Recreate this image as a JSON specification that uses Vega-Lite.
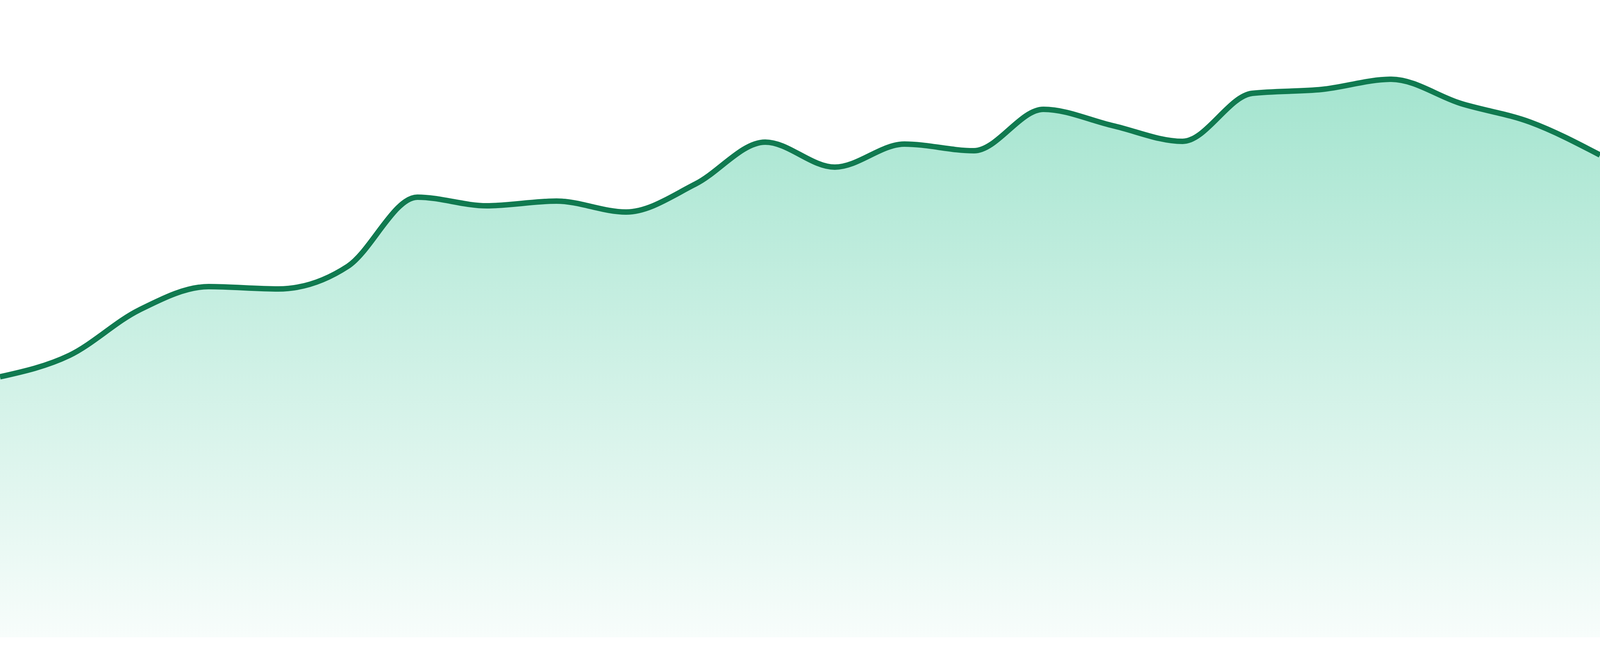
{
  "$schema": "https://vega.github.io/schema/vega-lite/v6.json",
  "description": "Smooth area chart with green gradient fill",
  "width": 4096,
  "height": 1680,
  "autosize": {"type": "fit", "contains": "padding"},
  "padding": {"left": 0, "right": 0, "top": 0, "bottom": 48},
  "background": "white",
  "config": {"view": {"stroke": null}},
  "data": {
    "values": [
      {"i": 0, "v": 667},
      {"i": 1, "v": 722},
      {"i": 2, "v": 838},
      {"i": 3, "v": 898},
      {"i": 4, "v": 892},
      {"i": 5, "v": 950},
      {"i": 6, "v": 1127},
      {"i": 7, "v": 1105},
      {"i": 8, "v": 1117},
      {"i": 9, "v": 1089},
      {"i": 10, "v": 1161},
      {"i": 11, "v": 1268},
      {"i": 12, "v": 1204},
      {"i": 13, "v": 1263},
      {"i": 14, "v": 1246},
      {"i": 15, "v": 1352},
      {"i": 16, "v": 1310},
      {"i": 17, "v": 1270},
      {"i": 18, "v": 1393},
      {"i": 19, "v": 1403},
      {"i": 20, "v": 1429},
      {"i": 21, "v": 1367},
      {"i": 22, "v": 1319},
      {"i": 23, "v": 1235}
    ]
  },
  "encoding": {
    "x": {
      "field": "i",
      "type": "quantitative",
      "scale": {"domain": [0, 23], "nice": false, "zero": false},
      "axis": null
    },
    "y": {
      "field": "v",
      "type": "quantitative",
      "scale": {"domain": [0, 1632], "nice": false},
      "axis": null
    }
  },
  "layer": [
    {
      "mark": {
        "type": "area",
        "interpolate": "monotone",
        "clip": true,
        "color": {
          "gradient": "linear",
          "x1": 0, "y1": 0, "x2": 0, "y2": 1,
          "stops": [
            {"offset": 0, "color": "rgba(16,185,129,0.38)"},
            {"offset": 1, "color": "rgba(16,185,129,0.03)"}
          ]
        }
      }
    },
    {
      "mark": {
        "type": "line",
        "interpolate": "monotone",
        "clip": true,
        "color": "#107a50",
        "strokeWidth": 14
      }
    }
  ]
}
